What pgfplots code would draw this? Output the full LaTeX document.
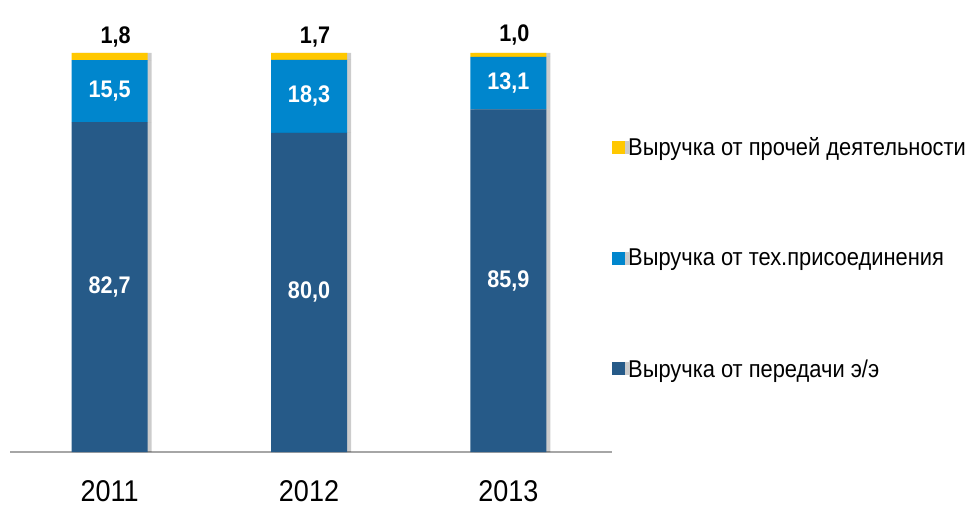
\documentclass[border=0pt]{standalone}
\usepackage{fontspec}
\setmainfont{Liberation Sans}[FakeStretch=0.9]
\usepackage{pgfplots}
\pgfplotsset{compat=1.18}
\usetikzlibrary{shadows}
\definecolor{cDark}{HTML}{265A88}
\definecolor{cMid}{HTML}{0086CD}
\definecolor{cYel}{HTML}{FFC800}

\pgfplotsset{
  base/.style={
    scale only axis, width=602bp, height=399bp,
    xmin=-0.5, xmax=2.52, ymin=0, ymax=100,
    clip=false,
  },
  barshadow/.style={drop shadow={shadow xshift=4bp, shadow yshift=0bp, opacity=0.2, fill=black}},
}

\begin{document}
\begin{tikzpicture}
\begin{axis}[
  base,
  ybar stacked, bar width=76bp,
  axis x line=bottom, axis y line=none,
  x axis line style={draw=gray!70, line width=1.5bp, -},
  xtick={0,1,2}, xticklabels={2011,2012,2013},
  major tick length=0pt,
  xticklabel style={font=\fontsize{30bp}{34bp}\selectfont, anchor=north,
    inner sep=0pt, yshift=-28bp},
  legend style={at={(axis description cs:1,0.486)}, anchor=west, draw=none,
    inner sep=0pt, row sep=88bp, font=\fontsize{24.3bp}{28bp}\selectfont,
    nodes={inner xsep=3bp}, cells={anchor=west}},
  reverse legend,
  legend image code/.code={\fill[#1, draw=none] (0bp,-6.5bp) rectangle (13bp,6.5bp);},
]
\coordinate (O) at (rel axis cs:0,0);
\addplot[fill=cDark, draw=none, barshadow] coordinates {(0,82.7) (1,80.0) (2,85.9)};
\addlegendentry{Выручка от передачи э/э}
\addplot[fill=cMid, draw=none, barshadow] coordinates {(0,15.5) (1,18.3) (2,13.1)};
\addlegendentry{Выручка от тех.присоединения}
\addplot[fill=cYel, draw=none, barshadow,
  nodes near coords, point meta=explicit symbolic,
  every node near coord/.append style={font=\bfseries\fontsize{24bp}{28bp}\selectfont,
    text=black, anchor=south, yshift=6bp, xshift=6bp}]
  coordinates {(0,1.8) [1,8] (1,1.7) [1,7] (2,1.0) [1,0]};
\addlegendentry{Выручка от прочей деятельности}
\end{axis}
\begin{axis}[base, hide axis]
\addplot[draw=none, nodes near coords, point meta=explicit symbolic,
  every node near coord/.append style={font=\bfseries\fontsize{24bp}{28bp}\selectfont,
    text=white, anchor=center}]
  coordinates {(0,41.35) [82,7] (1,40.0) [80,0] (2,42.95) [85,9]
               (0,90.45) [15,5] (1,89.15) [18,3] (2,92.45) [13,1]};
\end{axis}
\path (O) ++(-10bp,-58bp) rectangle ++(971bp,510bp);
\end{tikzpicture}
\end{document}
